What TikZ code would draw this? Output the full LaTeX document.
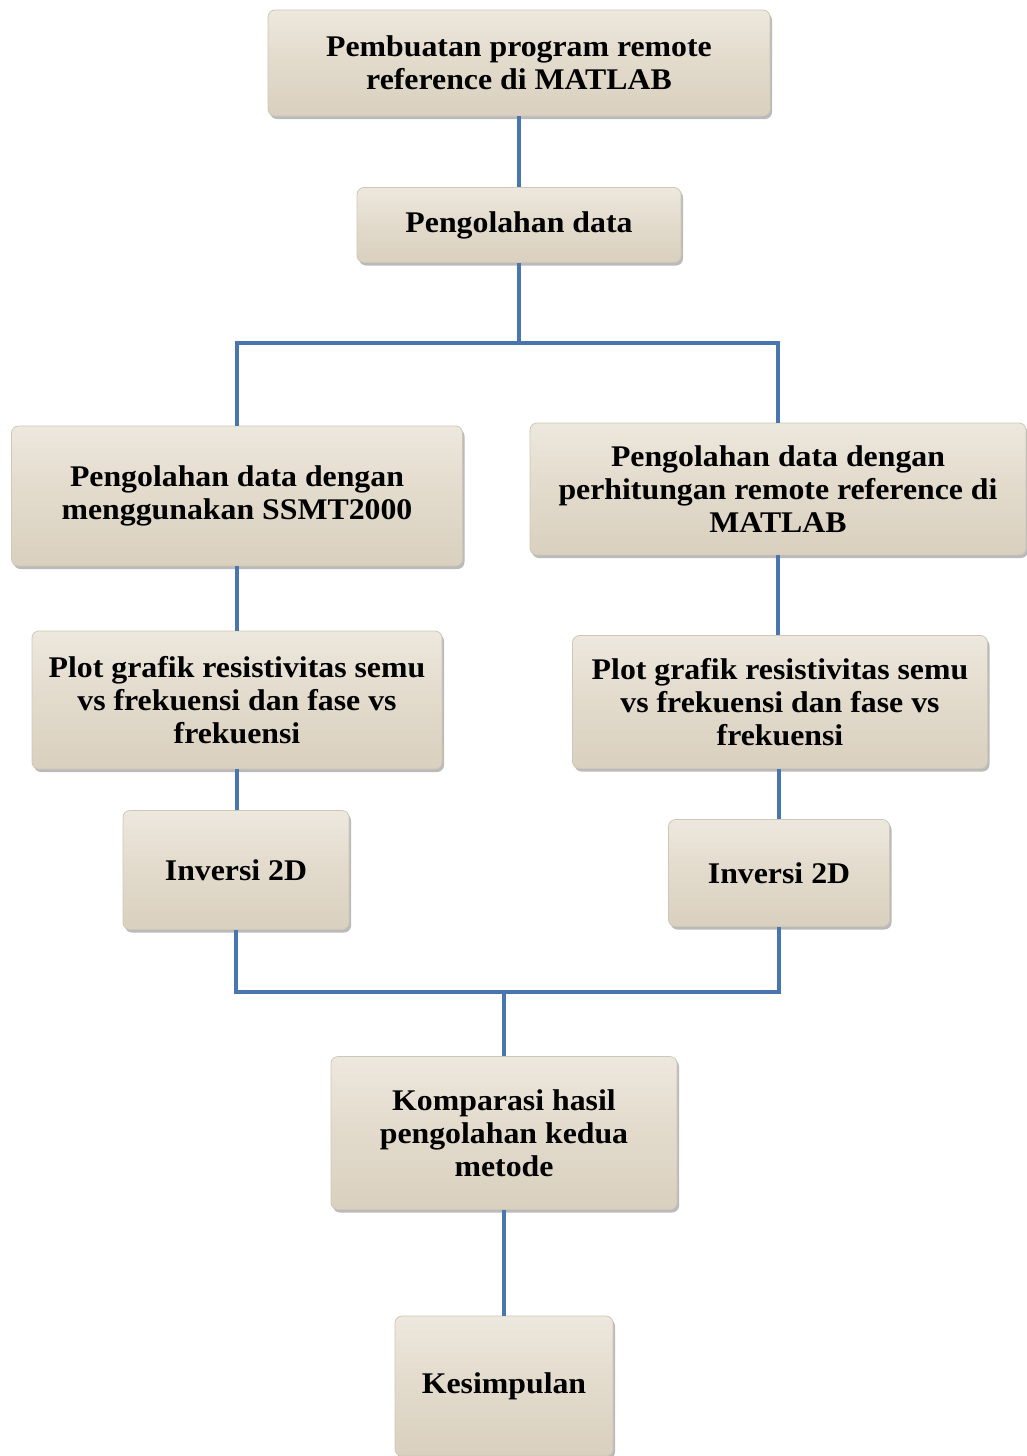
\documentclass[tikz,border=0pt]{standalone}
\usepackage{fontspec}
\setmainfont{Liberation Serif}[FakeStretch=1.06]
\usetikzlibrary{shadows}
\definecolor{linkblue}{HTML}{4A76B0}
\definecolor{boxtop}{HTML}{EDE8DE}
\definecolor{boxmid}{HTML}{E2DACB}
\definecolor{boxbot}{HTML}{D9D0BF}
\definecolor{boxedge}{HTML}{CFC7B6}
\tikzset{
  stagebox/.style={draw=boxedge, line width=0.8pt, rounded corners=7pt,
    top color=boxtop, bottom color=boxbot, middle color=boxmid,
    drop shadow={shadow xshift=2pt, shadow yshift=-3pt, opacity=0.45, fill=black!60},
    align=center, inner sep=0pt,
    font=\fontsize{30}{33}\selectfont\bfseries},
  link/.style={draw=linkblue, line width=4pt}
}
\begin{document}
\begin{tikzpicture}[x=1pt,y=-1pt]
\useasboundingbox (0,0) rectangle (1026,1456);
\node[stagebox, minimum width=502pt, minimum height=106pt] (top) at (519,63)
  {Pembuatan program remote\\reference di MATLAB};
\node[stagebox, minimum width=324pt, minimum height=75pt] (pd) at (519,225)
  {Pengolahan data};
\node[stagebox, minimum width=451pt, minimum height=140pt] (left) at (237,496)
  {Pengolahan data dengan\\menggunakan SSMT2000};
\node[stagebox, minimum width=496pt, minimum height=132pt] (right) at (778,489)
  {Pengolahan data dengan\\perhitungan remote reference di\\MATLAB};
\node[stagebox, minimum width=410pt, minimum height=138pt] (lplot) at (237,700)
  {Plot grafik resistivitas semu\\vs frekuensi dan fase vs\\frekuensi};
\node[stagebox, minimum width=415pt, minimum height=133pt] (rplot) at (780,702)
  {Plot grafik resistivitas semu\\vs frekuensi dan fase vs\\frekuensi};
\node[stagebox, minimum width=226pt, minimum height=119pt] (linv) at (236,870)
  {Inversi 2D};
\node[stagebox, minimum width=221pt, minimum height=107pt] (rinv) at (779,873)
  {Inversi 2D};
\node[stagebox, minimum width=346pt, minimum height=153pt] (komp) at (504,1133)
  {Komparasi hasil\\pengolahan kedua\\metode};
\node[stagebox, minimum width=218pt, minimum height=140pt] (kes) at (504,1386)
  {Kesimpulan};
\coordinate (split) at (519,343);
\coordinate (merge) at (504,992);
\draw[link] (top.south) -- (pd.north);
\draw[link] (pd.south) -- (split);
\draw[link] (left.north) |- (split) -| (right.north);
\draw[link] (left.south) -- (lplot.north);
\draw[link] (right.south) -- (right.south |- rplot.north);
\draw[link] (lplot.south) -- (lplot.south |- linv.north);
\draw[link] (rinv.north |- rplot.south) -- (rinv.north);
\draw[link] (linv.south) |- (merge) -| (rinv.south);
\draw[link] (merge) -- (komp.north);
\draw[link] (komp.south) -- (kes.north);
\end{tikzpicture}
\end{document}
